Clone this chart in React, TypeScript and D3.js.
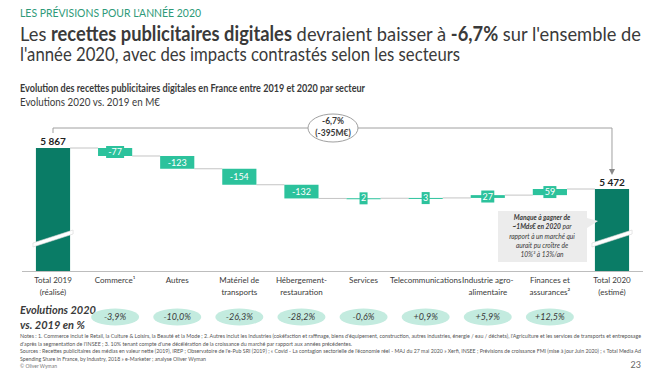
import React from 'react';
import * as d3 from 'd3';

const WIDTH = 664;
const HEIGHT = 372;

const categories = [
  ['Total 2019', '(réalisé)'],
  ['Commerce¹'],
  ['Autres'],
  ['Matériel de', 'transports'],
  ['Hébergement-', 'restauration'],
  ['Services'],
  ['Telecommunications'],
  ['Industrie agro-', 'alimentaire'],
  ['Finances et', 'assurances²'],
  ['Total 2020', '(estimé)'],
];
const values = [5867, -77, -123, -154, -132, 2, 3, 27, 59, 5472];
const totalFlags = [true, false, false, false, false, false, false, false, false, true];
const evolutions = ['-3,9%', '-10,0%', '-26,3%', '-28,2%', '-0,6%', '+0,9%', '+5,9%', '+12,5%'];

const notes = [
  "Notes : 1. Commerce inclut le Retail, la Culture & Loisirs, la Beauté et la Mode ; 2. Autres inclut les Industries (cokéfaction et raffinage, biens d'équipement, construction, autres industries, énergie / eau / déchets), l'Agriculture et les services de transports et entreposage",
  "d'après la segmentation de l'INSEE ; 3. 10% tenant compte d'une décélération de la croissance du marché par rapport aux années précédentes.",
  "Sources : Recettes publicitaires des médias en valeur nette (2019), IREP ; Observatoire de l'e-Pub SRI (2019) ; « Covid - La contagion sectorielle de l'économie réel - MAJ du 27 mai 2020 » Xerfi, INSEE ; Prévisions de croissance FMI (mise à jour Juin 2020) ; « Total Media Ad",
  "Spending Share in France, by Industry, 2018 » e-Marketer ; analyse Oliver Wyman",
];
const noteWidths = [621, 332, 621, 186];

const DARK = '#0a7c66';
const LIGHT = '#2cc29c';
const PILL = '#c3ebdf';
const TXT = '#3a3a3a';
const FONT = 'Lato, "Open Sans", sans-serif';

export default function App() {
  const x = d3.scaleBand<number>()
    .domain(d3.range(values.length))
    .range([23.5, 641.5])
    .paddingInner(0.45)
    .paddingOuter(0.2);
  const y = d3.scaleLinear().domain([4682, 5867]).range([271, 148]);
  const bw = x.bandwidth();

  // waterfall steps
  let running = 0;
  const steps = values.map((v, i) => {
    if (totalFlags[i]) {
      running = v;
      return { i, start: v, end: v, total: true };
    }
    const s = running;
    running += v;
    return { i, start: s, end: running, total: false };
  });

  const cx = (i: number) => (x(i) as number) + bw / 2;
  const baseY = y.range()[0];

  const breakBand = (i: number) => {
    const x0 = (x(i) as number) - 3;
    const x1 = (x(i) as number) + bw + 3;
    return `M${x0},${243} L${x1},${230} L${x1},${234} L${x0},${247} Z`;
  };

  const bubbleX = 333;
  const bubbleY = 128;
  const lastX = cx(values.length - 1);

  return (
    <svg width={WIDTH} height={HEIGHT} style={{ position: 'absolute', left: 0, top: 0, background: '#fff' }} fontFamily={FONT}>
      {/* header */}
      <text x={20} y={17} fontSize={10.5} fill="#2e9a78" textLength={181} lengthAdjust="spacingAndGlyphs">LES PRÉVISIONS POUR L'ANNÉE 2020</text>
      <text x={20} y={41} fontSize={20} fill={TXT} textLength={621} lengthAdjust="spacingAndGlyphs">
        Les <tspan fontWeight="bold">recettes publicitaires digitales</tspan> devraient baisser à <tspan fontWeight="bold">-6,7%</tspan> sur l'ensemble de
      </text>
      <text x={20} y={61} fontSize={20} fill={TXT} textLength={440} lengthAdjust="spacingAndGlyphs">l'année 2020, avec des impacts contrastés selon les secteurs</text>
      <text x={20} y={92} fontSize={11.5} fontWeight="bold" fill={TXT} textLength={345} lengthAdjust="spacingAndGlyphs">Evolution des recettes publicitaires digitales en France entre 2019 et 2020 par secteur</text>
      <text x={20} y={106} fontSize={11.5} fill={TXT} textLength={140} lengthAdjust="spacingAndGlyphs">Evolutions 2020 vs. 2019 en M€</text>

      {/* bracket */}
      <g stroke="#a0a0a0" fill="none" strokeWidth={1}>
        <path d={`M${cx(0)},133 V${bubbleY} H${bubbleX - 25}`} />
        <path d={`M${bubbleX + 25},${bubbleY} H${lastX} V170`} />
        <ellipse cx={bubbleX} cy={bubbleY} rx={25} ry={14} fill="#fff" />
      </g>
      <path d={`M${lastX - 3},169 L${lastX + 3},169 L${lastX},175 Z`} fill="#888" />
      <text x={bubbleX} y={124} textAnchor="middle" fontSize={8.5} fontWeight="bold" fill={TXT}>-6,7%</text>
      <text x={bubbleX} y={136} textAnchor="middle" fontSize={8.5} fontWeight="bold" fill={TXT}>(-395M€)</text>

      {/* connectors */}
      {steps.slice(0, -1).map((s) => (
        <line key={`c${s.i}`} x1={(x(s.i) as number) + bw} x2={x(s.i + 1) as number}
          y1={y(s.end)} y2={y(s.end)} stroke="#c4c4c4" strokeWidth={1} />
      ))}

      {/* bars */}
      {steps.map((s) => {
        if (s.total) {
          return (
            <g key={`b${s.i}`}>
              <rect x={x(s.i)} y={y(s.end)} width={bw} height={baseY - y(s.end)} fill={DARK} />
              <path d={breakBand(s.i)} fill="#fff" stroke="#d6d6d6" strokeWidth={0.6} />
              <text x={cx(s.i)} y={y(s.end) - 3.5} textAnchor="middle" fontSize={10} fontWeight="bold" fill="#222">
                {d3.format(',')(s.end).replace(',', ' ')}
              </text>
            </g>
          );
        }
        const top = y(Math.max(s.start, s.end));
        const h = Math.abs(y(s.start) - y(s.end));
        const mid = top + h / 2;
        const label = String(values[s.i]);
        const boxW = label.length * 5 + 3;
        const small = h < 12;
        return (
          <g key={`b${s.i}`}>
            <rect x={x(s.i)} y={top} width={bw} height={Math.max(h, 1)} fill={LIGHT} />
            {small && <rect x={cx(s.i) - boxW / 2} y={mid - 6} width={boxW} height={12} fill={LIGHT} />}
            <text x={cx(s.i)} y={mid} dy="0.35em" textAnchor="middle" fontSize={9} fill="#fff">{label}</text>
          </g>
        );
      })}

      {/* callout */}
      <path d="M498,211 H587 V218 L598,221 L587,228 V262 H498 Z" fill="#ececec" />
      <g fontSize={6.6} fontStyle="italic" fill={TXT} textAnchor="middle">
        <text x={542} y={220}><tspan fontWeight="bold">Manque à gagner de</tspan></text>
        <text x={542} y={229}><tspan fontWeight="bold">~1Mds€ en 2020</tspan> par</text>
        <text x={542} y={239}>rapport à un marché qui</text>
        <text x={542} y={248}>aurait pu croître de</text>
        <text x={542} y={257}>10%³ à 13%/an</text>
      </g>

      {/* axis */}
      <line x1={22} x2={643} y1={baseY + 0.5} y2={baseY + 0.5} stroke="#bdbdbd" strokeWidth={1} />
      {categories.map((lines, i) => (
        <text key={`l${i}`} x={cx(i)} y={283} textAnchor="middle" fontSize={8} fill={TXT}>
          {lines.map((t, k) => (
            <tspan key={k} x={cx(i)} dy={k === 0 ? 0 : 11.5}>{t}</tspan>
          ))}
        </text>
      ))}

      {/* evolutions row */}
      <text x={20} y={314} fontSize={11} fontWeight="bold" fontStyle="italic" fill={TXT}>Evolutions 2020</text>
      <text x={20} y={329} fontSize={11} fontWeight="bold" fontStyle="italic" fill={TXT}>vs. 2019 en %</text>
      {evolutions.map((e, k) => (
        <g key={`p${k}`}>
          <ellipse cx={cx(k + 1)} cy={317} rx={24} ry={8.5} fill={PILL} />
          <text x={cx(k + 1)} y={317} dy="0.35em" textAnchor="middle" fontSize={9} fontStyle="italic" fill={TXT}>{e}</text>
        </g>
      ))}

      {/* notes */}
      {notes.map((n, k) => (
        <text key={`n${k}`} x={20} y={338 + k * 7.6} fontSize={5.6} fill="#555" textLength={noteWidths[k]} lengthAdjust="spacingAndGlyphs">{n}</text>
      ))}
      <text x={20} y={368} fontSize={5} fill="#777">© Oliver Wyman</text>
      <text x={641} y={368} textAnchor="end" fontSize={9} fill="#666">23</text>
    </svg>
  );
}
